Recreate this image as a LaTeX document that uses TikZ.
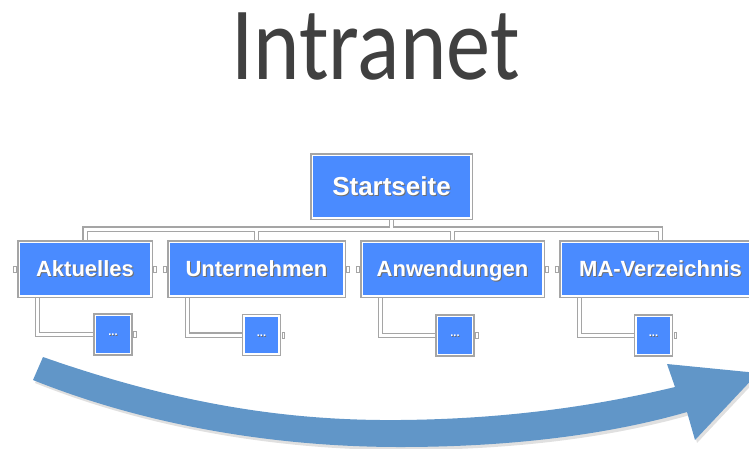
\documentclass[tikz,border=0pt]{standalone}
\usepackage{fontspec}
\setmainfont{Liberation Sans}
\newfontfamily\titlefont{Carlito}
\usetikzlibrary{calc,backgrounds}
\definecolor{boxblue}{RGB}{74,139,255}
\definecolor{arrowblue}{RGB}{97,150,200}
\definecolor{edgegray}{RGB}{165,165,165}
\definecolor{titlegray}{RGB}{64,64,64}
\definecolor{shadowgray}{RGB}{110,110,110}
\newcommand\shtxt[1]{\makebox[0pt][l]{\raisebox{-0.9pt}{\hspace{0.9pt}\textcolor{shadowgray}{#1}}}\textcolor{white}{#1}}
\tikzset{
  orgbox/.style={fill=boxblue, draw=white, line width=1.5pt, inner sep=0pt,
    text height=15.8pt, text depth=0pt,
    preaction={draw=edgegray, line width=4.5pt}, font=\bfseries\fontsize{22}{24}\selectfont},
  subbox/.style={orgbox, minimum width=35pt, minimum height=38pt, font=\bfseries\fontsize{11}{12}\selectfont, text height=2.5pt},
  connout/.style={draw=edgegray, line width=5.5pt},
  connin/.style={draw=white, line width=3pt},
  nub/.style={draw=edgegray, fill=white, line width=0.8pt},
}
\begin{document}
\begin{tikzpicture}[x=1pt,y=-1pt]
\useasboundingbox (0,0) rectangle (749,448);
\clip (0,0) rectangle (749,448);
% title
\node[anchor=base, text=titlegray, inner sep=0pt, xscale=0.85, font=\titlefont\fontsize{104}{110}\selectfont] (title) at (375.5,79) {Intranet};
% boxes
\node[orgbox, minimum width=158.5pt, minimum height=62.5pt, text height=18.7pt, font=\bfseries\fontsize{26}{28}\selectfont] (st) at (391.5,186.5) {\shtxt{Startseite}};
\node[orgbox, minimum width=131.5pt, minimum height=53.5pt] (akt) at (85,269) {\shtxt{Aktuelles}};
\node[orgbox, minimum width=174.5pt, minimum height=53.5pt] (unt) at (256.5,269) {\shtxt{Unternehmen}};
\node[orgbox, minimum width=180.5pt, minimum height=53.5pt] (anw) at (452.5,269) {\shtxt{Anwendungen}};
\node[orgbox, minimum width=198.5pt, minimum height=53.5pt] (ma) at (660.5,269) {\shtxt{MA-Verzeichnis}};
\node[subbox] (sakt) at (113,334.5) {\shtxt{...}};
\node[subbox] (sunt) at (261.5,335) {\shtxt{...}};
\node[subbox] (sanw) at (455,335.5) {\shtxt{...}};
\node[subbox] (sma) at (653.5,335.5) {\shtxt{...}};
\coordinate (bus) at (0,229);
\begin{scope}[on background layer]
  \foreach \c in {akt,unt,anw,ma}
    \draw[connout] (st.south) |- (\c.north |- bus) -- (\c.north);
  \foreach \c/\s in {akt/sakt,unt/sunt,anw/sanw,ma/sma}
    \draw[connout] ($(\c.south west)+(19,0)$) |- (\s.west);
  \foreach \c in {akt,unt,anw,ma}
    \draw[connin] (st.south) |- (\c.north |- bus) -- (\c.north);
  \foreach \c/\s in {akt/sakt,unt/sunt,anw/sanw,ma/sma}
    \draw[connin] ($(\c.south west)+(19,0)$) |- (\s.west);
\end{scope}
% nubs
\foreach \c in {akt,unt,anw,ma} {
  \draw[nub] ($(\c.west)+(-5,-3)$) rectangle ($(\c.west)+(-2.2,3)$);
  \draw[nub] ($(\c.east)+(2.2,-3)$) rectangle ($(\c.east)+(5,3)$);
}
\foreach \s in {sakt,sunt,sanw,sma}
  \draw[nub] ($(\s.east)+(2.2,-3)$) rectangle ($(\s.east)+(4.8,3)$);
% arrow shadow
\fill[black, opacity=0.12] (45,360) .. controls (182,408) and (292,424) .. (402,423)
  .. controls (512,422) and (602,408) .. (677,390) -- (671,367) -- (760,376) -- (697,443) -- (690,415)
  .. controls (602,440) and (502,450) .. (402,450)
  .. controls (282,450) and (152,430) .. (35,383) -- cycle;
% arrow
\fill[arrowblue] (43,357) .. controls (180,405) and (290,421) .. (400,420)
  .. controls (510,419) and (600,405) .. (675,387) -- (667,364) -- (758,373) -- (695,440) -- (687,412)
  .. controls (600,437) and (500,447) .. (400,447)
  .. controls (280,447) and (150,427) .. (33,380) -- cycle;
\end{tikzpicture}
\end{document}
